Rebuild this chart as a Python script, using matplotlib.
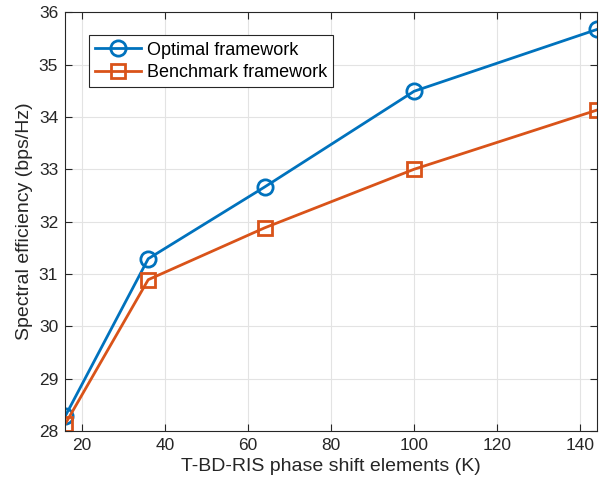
import matplotlib
matplotlib.use("Agg")
import matplotlib.pyplot as plt

K = [16, 36, 64, 100, 144]
optimal = [28.28, 31.29, 32.66, 34.49, 35.67]
benchmark = [28.13, 30.89, 31.88, 33.0, 34.13]
xticks = [20, 40, 60, 80, 100, 120, 140]
yticks = [28, 29, 30, 31, 32, 33, 34, 35, 36]

plt.rcParams['font.family'] = ['Liberation Sans', 'DejaVu Sans']

fig = plt.figure(figsize=(6.03, 4.87), dpi=100)
ax = fig.add_axes([0.108, 0.115, 0.882, 0.86])

ax.plot(K, optimal, '-o', color='#0072BD', lw=2, ms=11, mfc='none', mew=2, label='Optimal framework')
ax.plot(K, benchmark, '-s', color='#D95319', lw=2, ms=9.5, mfc='none', mew=2, label='Benchmark framework')

ax.set_xlim(16, 144)
ax.set_ylim(28, 36)
ax.set_xticks(xticks)
ax.set_yticks(yticks)
ax.grid(True, color='#e3e3e3', lw=0.8)
ax.set_axisbelow(True)
ax.tick_params(direction='in', length=5, labelsize=12.5, colors='#262626', top=True, right=True, pad=5)
for s in ax.spines.values():
    s.set_color('#262626')
    s.set_linewidth(0.8)
ax.set_xlabel('T-BD-RIS phase shift elements (K)', fontsize=14, color='#262626', labelpad=4)
ax.set_ylabel('Spectral efficiency (bps/Hz)', fontsize=14, color='#262626', labelpad=4)

leg = ax.legend(loc='upper left', bbox_to_anchor=(0.045, 0.945), fontsize=13, fancybox=False,
                edgecolor='#262626', framealpha=1, handlelength=2.5, borderpad=0.35,
                labelspacing=0.3, handletextpad=0.35, borderaxespad=0)
leg.get_frame().set_linewidth(0.8)

fig.savefig('out.png', dpi=100)
